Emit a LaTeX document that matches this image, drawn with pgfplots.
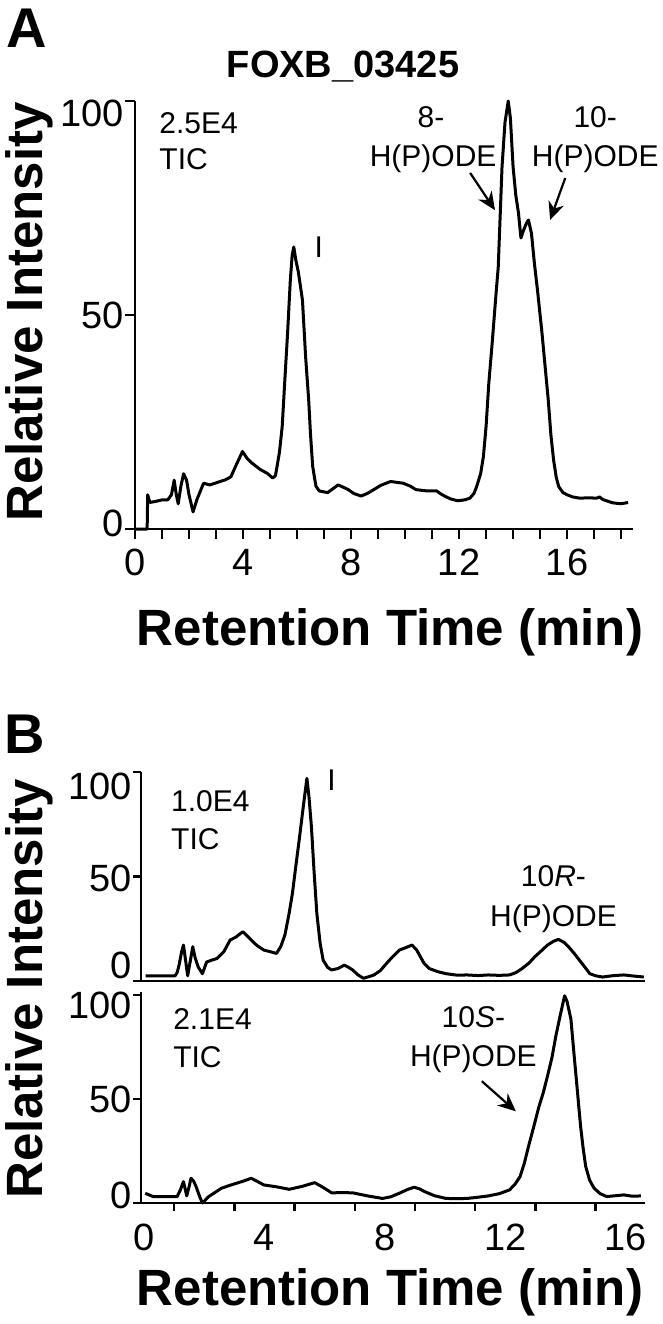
\documentclass[border=0pt]{standalone}
\usepackage{pgfplots}
\pgfplotsset{compat=1.18}
\usepackage{fontspec}
\setmainfont{Liberation Sans}
\usetikzlibrary{arrows.meta}
\def\X#1{#1*0.5pt}
\def\Y#1{-#1*0.5pt}
\newcommand\fs[1]{\fontsize{#1}{#1}\selectfont}
\newcommand\yl[2]{\smash{\raisebox{#1}{#2}}}
\tikzset{ann/.style={font=\fs{15pt}},
  arr/.style={line width=1.1pt, -{Stealth[length=9pt,width=8pt]}},
  trace/.style={black, line width=1.5pt, line join=round}}
\pgfplotsset{
 chrom/.style={scale only axis, axis lines*=left,
  axis line style={line width=1.4pt, black},
  every tick/.style={line width=1.2pt, black}, tick align=outside,
  major tick length=5pt, minor tick length=5pt,
  ytick={0,50,100}, clip=false, ymin=0, ymax=100,
  tick label style={font=\fs{19pt}},
  yticklabel style={inner xsep=0.5pt},
  /pgf/number format/assume math mode=true},
}
\begin{document}
\begin{tikzpicture}
\path[use as bounding box] (0,0) rectangle (\X{663},\Y{1324});
% panel letters, title, labels
\node[anchor=base west, inner sep=0, font=\fs{28pt}\bfseries] at (\X{6},\Y{47}) {A};
\node[anchor=base west, inner sep=0, font=\fs{28pt}\bfseries] at (\X{4},\Y{753}) {B};
\node[anchor=base, inner sep=0, font=\fs{19pt}\bfseries] at (\X{343},\Y{77}) {FOXB\_03425};
\node[anchor=base, inner sep=0, rotate=90, font=\fs{25.5pt}\bfseries] at (\X{42},\Y{312}) {Relative Intensity};
\node[anchor=base, inner sep=0, rotate=90, font=\fs{25.5pt}\bfseries] at (\X{42},\Y{989}) {Relative Intensity};
\node[anchor=base, inner sep=0, font=\fs{25.5pt}\bfseries] at (\X{390},\Y{645}) {Retention Time (min)};
\node[anchor=base, inner sep=0, font=\fs{25.5pt}\bfseries] at (\X{390},\Y{1305}) {Retention Time (min)};

% ---------------- Panel A
\begin{axis}[chrom, at={(\X{135},\Y{529})}, anchor=south west,
  width=249pt, height=214pt, xmin=0, xmax=18.44,
  xtick={0,4,...,16}, minor xtick={1,...,18},
  xticklabel style={yshift=-1.5pt},
  yticklabels={\yl{-3.8pt}{0},\yl{-6.8pt}{50},\yl{-12.8pt}{100}}]
\addplot[trace] coordinates {(0,0)(0.45,0)(0.47,8)(0.55,6.2)(0.8,6.5)(1.0,6.8)(1.21,6.8)(1.35,8)(1.45,11.4)(1.53,8)(1.6,5.9)(1.7,10)(1.8,12.9)(1.91,11.4)(2.0,8)(2.15,4.0)(2.3,7)(2.54,10.7)(2.77,10.3)(3.1,11)(3.35,11.5)(3.55,12.2)(3.75,15)(3.98,18.1)(4.15,16.5)(4.33,15.4)(4.64,13.9)(4.9,13)(5.1,11.9)(5.2,12.5)(5.26,14.6)(5.35,18)(5.45,23.9)(5.55,35)(5.65,45.8)(5.75,58)(5.82,64)(5.88,65.9)(5.95,63)(6.05,60)(6.2,53.5)(6.32,40)(6.43,30.3)(6.5,22)(6.58,14.6)(6.7,10)(6.82,8.9)(7.13,8.5)(7.35,9.5)(7.52,10.3)(7.7,9.8)(7.9,9.2)(8.1,8.3)(8.37,7.7)(8.6,8.3)(8.84,9.2)(9.1,10.2)(9.46,11.1)(9.7,10.9)(9.93,10.7)(10.2,10)(10.4,9.2)(10.8,8.9)(11.17,8.9)(11.3,8.3)(11.49,7.6)(11.7,7)(11.95,6.6)(12.2,6.8)(12.4,7.2)(12.55,8.3)(12.65,9.9)(12.8,13)(12.9,16.9)(13.0,24)(13.1,34)(13.22,43)(13.35,53.5)(13.45,61.2)(13.59,84.6)(13.7,95)(13.82,100)(13.9,96)(14.0,84.6)(14.1,78)(14.2,73.8)(14.29,68)(14.37,69.5)(14.44,70.6)(14.5,71.5)(14.57,72.2)(14.63,70.5)(14.68,69.1)(14.79,62)(14.9,56)(15.07,45.8)(15.2,37)(15.3,30.3)(15.4,22)(15.5,16.1)(15.6,12)(15.69,9.9)(15.85,8.5)(16.0,8)(16.2,7.5)(16.47,7.2)(16.8,7.3)(17.09,7.2)(17.2,7.5)(17.32,6.9)(17.5,6.5)(17.7,6.1)(18.0,5.9)(18.26,6.2)};
\node[ann, anchor=base west, inner sep=0] at (axis cs:0.89,92.5) {2.5E4};
\node[ann, anchor=base west, inner sep=0] at (axis cs:0.89,83.9) {TIC};
\node[ann, anchor=base, inner sep=0] at (axis cs:10.96,93.9) {8-};
\node[ann, anchor=base, inner sep=0] at (axis cs:11.04,84.6) {H(P)ODE};
\node[ann, anchor=base, inner sep=0] at (axis cs:17.04,93.9) {10-};
\node[ann, anchor=base, inner sep=0] at (axis cs:17.04,84.6) {H(P)ODE};
\node[ann, inner sep=0] at (axis cs:6.81,65.9) {I};
\draw[arr] (axis cs:12.41,83.2) -- (axis cs:13.33,74.5);
\draw[arr] (axis cs:15.93,82) -- (axis cs:15.37,72.2);
\end{axis}

% ---------------- Panel B top
\begin{axis}[chrom, at={(\X{141},\Y{981})}, anchor=south west,
  width=252pt, height=104.5pt, xmin=-0.1, xmax=16.64, xtick=\empty,
  major tick length=4pt,
  yticklabels={\yl{1.2pt}{0},\yl{-7.3pt}{50},\yl{-13.8pt}{100}}]
\addplot[trace] coordinates {(0.05,2.5)(1.03,2.5)(1.1,4)(1.17,8)(1.25,14)(1.31,17.2)(1.38,10)(1.45,2.5)(1.53,9)(1.62,16.4)(1.7,11)(1.8,6.7)(1.94,3.5)(2.08,9.1)(2.25,10)(2.43,10.8)(2.65,14)(2.86,19.6)(3.05,21)(3.28,23.6)(3.4,22)(3.56,19.6)(3.75,17)(3.98,14.8)(4.2,14)(4.4,13.2)(4.54,16.4)(4.68,22)(4.82,32.4)(4.93,42)(5.04,54.7)(5.15,67)(5.25,78.7)(5.33,88)(5.41,97)(5.48,88)(5.56,73.9)(5.65,52)(5.74,32.4)(5.85,18)(5.95,10)(6.1,6.5)(6.23,5.3)(6.45,6)(6.65,7.6)(6.8,6.5)(6.93,5.3)(7.1,3)(7.29,1.3)(7.45,2)(7.64,2.9)(7.85,5)(8.06,8.5)(8.25,11.5)(8.48,14.8)(8.7,16)(8.9,17.2)(9.05,15)(9.18,11.6)(9.3,8.5)(9.47,6)(9.75,4.5)(10.03,3.5)(10.4,2.8)(10.73,2.9)(11.1,2.6)(11.43,2.9)(11.8,2.7)(12.14,2.9)(12.35,4)(12.56,6)(12.78,8.5)(12.98,11.6)(13.2,14.5)(13.4,17.2)(13.6,19)(13.76,19.9)(13.95,18.5)(14.1,16.4)(14.3,13)(14.46,10)(14.65,6.5)(14.81,3.5)(15.0,2.5)(15.23,1.9)(15.6,2.6)(15.94,2.9)(16.25,2.4)(16.6,1.9)};
\node[ann, anchor=base west, inner sep=0] at (axis cs:0.89,81) {1.0E4};
\node[ann, anchor=base west, inner sep=0] at (axis cs:0.89,62.7) {TIC};
\node[ann, inner sep=0] at (axis cs:6.23,96) {I};
\node[ann, anchor=base, inner sep=0] at (axis cs:13.6,45) {10\textit{R}-};
\node[ann, anchor=base, inner sep=0] at (axis cs:13.6,26) {H(P)ODE};
\end{axis}

% ---------------- Panel B bottom
\begin{axis}[chrom, at={(\X{141},\Y{1203})}, anchor=south west,
  width=252pt, height=105.5pt, xmin=-0.1, xmax=16.64, ymax=101.5,
  major tick length=4pt,
  yticklabels={\yl{-2.8pt}{0},\yl{-6.8pt}{50},\yl{-11.8pt}{100}},
  xtick={1,3,...,15}, xticklabels={},
  extra x ticks={0,4,8,12,16},
  extra x tick style={major tick length=0pt, xticklabel style={yshift=-7pt}}]
\addplot[trace] coordinates {(0.04,4.7)(0.3,3.1)(1.1,3.1)(1.2,6)(1.31,10.3)(1.42,3.4)(1.5,8)(1.56,11.9)(1.65,10.5)(1.73,7.9)(1.85,3)(1.94,0)(2.15,3.1)(2.35,5)(2.57,7.1)(2.85,8.5)(3.14,9.8)(3.35,10.8)(3.56,11.9)(3.75,10.5)(3.98,8.7)(4.4,7.8)(4.82,6.6)(5.25,8)(5.67,9.8)(5.95,7.5)(6.23,4.9)(6.6,5)(6.93,4.9)(7.4,3.5)(7.92,2.2)(8.2,3)(8.48,4.7)(8.75,6.5)(8.97,7.6)(9.15,6.8)(9.32,5.5)(9.65,3.5)(10.03,2.2)(10.4,2.1)(10.73,2.2)(11.1,2.8)(11.43,3.4)(11.8,4.5)(12.14,6.3)(12.32,9)(12.49,12.7)(12.63,19)(12.77,27.2)(12.95,37)(13.12,46.5)(13.26,53)(13.4,61)(13.55,70)(13.68,80.4)(13.82,90)(13.97,99.7)(14.05,97)(14.18,88.4)(14.28,72)(14.39,54.6)(14.5,37)(14.58,27)(14.67,17.6)(14.8,11)(14.95,7.1)(15.15,4.5)(15.37,3.1)(15.65,3.5)(15.94,3.9)(16.2,3.3)(16.5,3.4)};
\node[ann, anchor=base west, inner sep=0] at (axis cs:0.96,83.6) {2.1E4};
\node[ann, anchor=base west, inner sep=0] at (axis cs:0.96,65) {TIC};
\node[ann, anchor=base, inner sep=0] at (axis cs:10.94,84.3) {10\textit{S}-};
\node[ann, anchor=base, inner sep=0] at (axis cs:10.94,65.8) {H(P)ODE};
\draw[arr] (axis cs:11.22,58.6) -- (axis cs:12.35,44.1);
\end{axis}
\end{tikzpicture}
\end{document}
